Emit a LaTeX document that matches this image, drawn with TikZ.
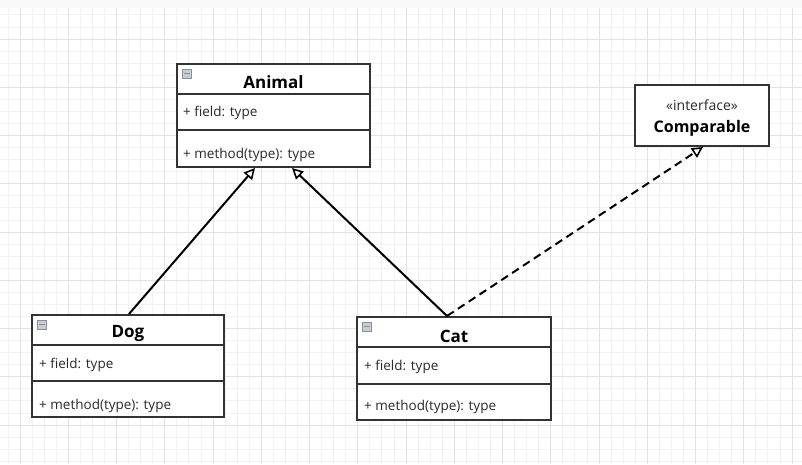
\documentclass[tikz,border=0pt]{standalone}
\usepackage{fontspec}
\setmainfont{Open Sans}
\usetikzlibrary{arrows.meta}
\definecolor{minorg}{HTML}{F2F2F2}
\definecolor{majorg}{HTML}{E2E2E2}
\definecolor{bandg}{HTML}{F8F9F9}
\definecolor{boxline}{HTML}{333333}
\definecolor{txt}{HTML}{2A2A2A}
\definecolor{iconfill}{HTML}{C9CDD2}
\definecolor{iconline}{HTML}{8A9097}
\tikzset{
  minorline/.style={draw=minorg, line width=0.8pt},
  majorline/.style={draw=majorg, line width=1pt},
  classbox/.style={draw=boxline, line width=2pt, fill=white, inner sep=0pt},
  divline/.style={draw=boxline, line width=1.6pt},
  titletext/.style={font=\fontsize{17}{20}\selectfont\bfseries, text=black, inner sep=0pt},
  membertext/.style={font=\fontsize{13.5}{16}\selectfont, text=txt, anchor=west, inner sep=0pt},
  icon/.style={draw=iconline, fill=iconfill, line width=0.6pt, minimum width=9pt, minimum height=9pt, inner sep=0pt, anchor=north west},
  inherit/.style={draw=black, line width=2pt, -{Triangle[length=11pt,width=11pt,fill=white,line width=1.6pt]}},
  realize/.style={inherit, dash pattern=on 8pt off 5pt},
}
\begin{document}
\begin{tikzpicture}[x=1pt,y=-1pt]
\useasboundingbox (0,0) rectangle (802,464);
\fill[white] (0,0) rectangle (802,464);
\fill[bandg] (0,0) rectangle (802,8);
% grid
\foreach \i in {-1,...,65} {
  \pgfmathsetmacro{\xx}{20+12.0625*\i}
  \draw[minorline] (\xx,8) -- (\xx,464);
}
\foreach \i in {-2,...,35} {
  \pgfmathsetmacro{\yy}{39+12.0625*\i}
  \draw[minorline] (0,\yy) -- (802,\yy);
}
\foreach \i in {0,...,16} {
  \pgfmathsetmacro{\xx}{20+48.25*\i}
  \draw[majorline] (\xx,8) -- (\xx,464);
}
\foreach \i in {0,...,8} {
  \pgfmathsetmacro{\yy}{39+48.25*\i}
  \draw[majorline] (0,\yy) -- (802,\yy);
}

% Animal
\node[classbox, minimum width=193pt, minimum height=103pt] (animal) at (273.5,115.5) {};
\draw[divline] (animal.north west) ++(0,31) coordinate (animalh1) -- (animalh1 -| animal.east);
\draw[divline] (animal.north west) ++(0,67) coordinate (animalh2) -- (animalh2 -| animal.east);
\node[icon] (animalicon) at ([shift={(6,6)}]animal.north west) {};
\draw[iconline, line width=1.2pt] ([shift={(2,0)}]animalicon.west) -- ([shift={(-2,0)}]animalicon.east);
\node[titletext] (animaltitle) at ([shift={(0,19)}]animal.north) {Animal};
\node[membertext] (animalfield) at ([shift={(7,50)}]animal.north west) {+ field: type};
\node[membertext] (animalmethod) at ([shift={(7,92)}]animal.north west) {+ method(type): type};

% Dog
\node[classbox, minimum width=192pt, minimum height=102pt] (dog) at (128,366) {};
\draw[divline] (dog.north west) ++(0,31) coordinate (dogh1) -- (dogh1 -| dog.east);
\draw[divline] (dog.north west) ++(0,67) coordinate (dogh2) -- (dogh2 -| dog.east);
\node[icon] (dogicon) at ([shift={(6,6)}]dog.north west) {};
\draw[iconline, line width=1.2pt] ([shift={(2,0)}]dogicon.west) -- ([shift={(-2,0)}]dogicon.east);
\node[titletext] (dogtitle) at ([shift={(0,19)}]dog.north) {Dog};
\node[membertext] (dogfield) at ([shift={(8,51)}]dog.north west) {+ field: type};
\node[membertext] (dogmethod) at ([shift={(8,92)}]dog.north west) {+ method(type): type};

% Cat
\node[classbox, minimum width=194pt, minimum height=103pt] (cat) at (454,368.5) {};
\draw[divline] (cat.north west) ++(0,31) coordinate (cath1) -- (cath1 -| cat.east);
\draw[divline] (cat.north west) ++(0,68) coordinate (cath2) -- (cath2 -| cat.east);
\node[icon] (caticon) at ([shift={(6,6)}]cat.north west) {};
\draw[iconline, line width=1.2pt] ([shift={(2,0)}]caticon.west) -- ([shift={(-2,0)}]caticon.east);
\node[titletext] (cattitle) at ([shift={(0,20)}]cat.north) {Cat};
\node[membertext] (catfield) at ([shift={(8,51)}]cat.north west) {+ field: type};
\node[membertext] (catmethod) at ([shift={(8,91)}]cat.north west) {+ method(type): type};

% Comparable
\node[classbox, minimum width=134pt, minimum height=61pt] (comparable) at (702,115.5) {};
\node[font=\fontsize{14}{16}\selectfont, text=txt, inner sep=0pt] (stereo) at ([shift={(0,21)}]comparable.north) {«interface»};
\node[font=\fontsize{16}{19}\selectfont\bfseries, text=black, inner sep=0pt] (compname) at ([shift={(0,44)}]comparable.north) {Comparable};

% connectors
\draw[inherit] ([xshift=1]dog.north) -- ([xshift=-18.5]animal.south);
\draw[inherit] ([xshift=-7]cat.north) -- ([xshift=18.5]animal.south);
\draw[realize] ([xshift=-7]cat.north) -- ([xshift=1]comparable.south);
\end{tikzpicture}
\end{document}
